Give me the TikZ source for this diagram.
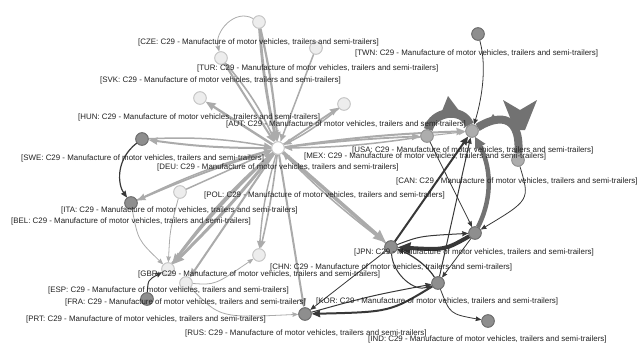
\documentclass[tikz,border=0pt]{standalone}
\usepackage{fontspec}
\setmainfont{Liberation Sans}
\usetikzlibrary{arrows.meta}
\definecolor{lite}{HTML}{ABABAB}
\definecolor{dark}{HTML}{383838}
\definecolor{band}{HTML}{727272}
\definecolor{txt}{HTML}{222222}
\definecolor{nlfill}{HTML}{EDEDED}
\definecolor{nldraw}{HTML}{C6C6C6}
\definecolor{nmfill}{HTML}{8E8E8E}
\definecolor{nmdraw}{HTML}{6E6E6E}
\definecolor{nufill}{HTML}{ADADAD}
\definecolor{nudraw}{HTML}{929292}
\tikzset{
  nbase/.style={circle, inner sep=0pt, minimum size=12.5pt, line width=0.8pt},
  nl/.style={nbase, fill=nlfill, draw=nldraw},
  nm/.style={nbase, fill=nmfill, draw=nmdraw},
  nu/.style={nbase, fill=nufill, draw=nudraw},
  naut/.style={nbase, fill=white, draw=nldraw},
  ledge/.style={draw=lite, -{Stealth[length=4pt 2.4, width=3pt 2.0, inset=0.5pt]}},
  dedge/.style={draw=dark, -{Stealth[length=4pt 2.2, width=3pt 2.0, inset=0.5pt]}},
  bandedge/.style={draw=band},
  lab/.style={font=\fontsize{7.9}{8}\selectfont, text=txt, inner sep=0pt, anchor=west}
}
\begin{document}
\begin{tikzpicture}[x=1pt,y=-1pt]
\useasboundingbox (0,0) rectangle (637,345);
% nodes
\node[nl] (cze) at (259,22) {};
\node[nl] (tur) at (221,58) {};
\node[nl] (svk) at (316,48) {};
\node[nl] (hun) at (200,98) {};
\node[nl] (deu) at (344,104) {};
\node[naut] (aut) at (278,148) {};
\node[nm] (swe) at (142,139) {};
\node[nm] (ita) at (131,203) {};
\node[nl] (pol) at (180,192) {};
\node[nl] (gbr) at (168,269) {};
\node[nl] (fra) at (186,283) {};
\node[nm] (esp) at (147,299) {};
\node[nl] (chn) at (259,255) {};
\node[nm] (rus) at (305,314) {};
\node[nm] (jpn) at (391,247) {};
\node[nm] (kor) at (438,283) {};
\node[nm] (ind) at (488,321) {};
\node[nu] (mex) at (427,136) {};
\node[nu] (usa) at (472,131) {};
\node[nu] (can) at (518,160) {};
\node[nm] (twn) at (478,34) {};
\node[nm] (kx) at (475,233) {};
% light edges from AUT
\draw[ledge, line width=2pt] (aut) to[bend left=4] (swe);
\draw[ledge, line width=2.4pt] (aut) to (hun);
\draw[ledge, line width=1.8pt] (aut) to[bend right=3] (ita);
\draw[ledge, line width=3pt] (aut) to[bend left=3] (gbr);
\draw[ledge, line width=2.4pt] (aut) to[bend right=4] (gbr);
\draw[ledge, line width=2pt] (aut) to (fra);
\draw[ledge, line width=1.6pt] (aut) to[bend left=3] (chn);
\draw[ledge, line width=1.4pt] (aut) to[bend right=6] (chn);
\draw[ledge, line width=2pt] (aut) to (rus);
\draw[ledge, line width=3.6pt] (aut) to (jpn);
\draw[ledge, line width=1.8pt] (aut) to (deu);
\draw[ledge, line width=1.8pt] (aut) to[bend left=2] (mex);
\draw[ledge, line width=2pt] (aut) to[bend left=3] (usa);
% light edges into AUT
\draw[ledge, line width=2.8pt] (cze) to[bend right=4] (aut);
\draw[ledge, line width=2.2pt] (cze) to[bend left=4] (aut);
\draw[ledge, line width=2pt] (tur) to (aut);
\draw[ledge, line width=1.6pt] (tur) to[bend left=8] (aut);
\draw[ledge, line width=1.5pt] (svk) to (aut);
\draw[ledge, line width=1.5pt] (swe) to[bend left=6] (aut);
\draw[ledge, line width=1.5pt] (ita) to[bend left=5] (aut);
\draw[ledge, line width=2pt] (gbr) to[bend left=6] (aut);
\draw[ledge, line width=1.5pt] (pol) to (aut);
\draw[ledge, line width=1.5pt] (mex) to[bend left=4] (aut);
\draw[ledge, line width=1.5pt] (jpn) to[bend left=4] (aut);
\draw[ledge, line width=1.5pt] (deu) to[bend left=6] (aut);
% thin light edges
\draw[ledge, line width=0.8pt] (cze) .. controls (235,8) and (214,32) .. (tur);
\draw[ledge, line width=0.8pt] (ita) .. controls (138,240) .. (gbr);
\draw[ledge, line width=0.8pt] (pol) .. controls (170,230) .. (gbr);
\draw[ledge, line width=0.8pt] (fra) .. controls (215,285) .. (chn);
\draw[ledge, line width=0.8pt] (fra) .. controls (220,318) .. (rus);
\draw[ledge, line width=1pt] (mex) to (usa);
% gray bands
\draw[bandedge, line width=4.5pt, -{Triangle[length=11pt,width=11pt]}] (kx) .. controls (494,195) and (490,165) .. (usa);
\draw[bandedge, line width=9pt] (mex) .. controls (432,112) and (462,106) .. (usa);
\fill[band] (440,116) -- (448,96) -- (460,112) -- cycle;
\draw[bandedge, line width=8pt] (usa) .. controls (494,117) and (521,110) .. (can);
\fill[band] (503,100) -- (520,110) -- (537,100) -- (525,130) -- (515,130) -- cycle;
\fill[band] (487,124) -- (493,114) -- (499,122) -- cycle;
% dark edges
\draw[dedge, line width=1.2pt] (swe) .. controls (115,160) and (118,185) .. (ita);
\draw[dedge, line width=1pt] (esp) .. controls (148,280) .. (gbr);
\draw[dedge, line width=0.8pt] (twn) .. controls (488,70) and (480,105) .. (usa);
\draw[dedge, line width=2pt] (jpn) -- (usa);
\draw[dedge, line width=1pt] (kor) -- (usa);
\draw[dedge, line width=0.8pt] (mex) -- (kx);
\draw[dedge, line width=0.8pt] (can) .. controls (530,200) .. (kx);
\draw[dedge, line width=4pt] (kx) .. controls (445,250) .. (jpn);
\draw[dedge, line width=1pt] (jpn) .. controls (420,236) .. (kx);
\draw[dedge, line width=1pt] (jpn) .. controls (393,275) and (415,292) .. (kor);
\draw[dedge, line width=1.2pt] (kor) .. controls (425,262) and (405,252) .. (jpn);
\draw[dedge, line width=0.8pt] (kx) -- (kor);
\draw[dedge, line width=0.8pt] (kor) .. controls (450,314) .. (ind);
\draw[dedge, line width=2pt] (kor) .. controls (390,312) .. (rus);
\draw[dedge, line width=1pt] (rus) .. controls (370,296) .. (kor);
\draw[dedge, line width=0.8pt] (jpn) -- (rus);
% redraw nodes on top
\foreach \n/\s in {cze/nl,tur/nl,svk/nl,hun/nl,deu/nl,aut/naut,swe/nm,ita/nm,pol/nl,gbr/nl,fra/nl,esp/nm,chn/nl,rus/nm,jpn/nm,kor/nm,ind/nm,mex/nu,usa/nu,can/nu,twn/nm,kx/nm}
  \node[\s] at (\n) {};
% labels
\node[lab] (lcze) at (138,42) {[CZE: C29 - Manufacture of motor vehicles, trailers and semi-trailers]};
\node[lab] (ltwn) at (355,53) {[TWN: C29 - Manufacture of motor vehicles, trailers and semi-trailers]};
\node[lab] (ltur) at (197,68) {[TUR: C29 - Manufacture of motor vehicles, trailers and semi-trailers]};
\node[lab] (lsvk) at (100,80) {[SVK: C29 - Manufacture of motor vehicles, trailers and semi-trailers]};
\node[lab] (lhun) at (78,117) {[HUN: C29 - Manufacture of motor vehicles, trailers and semi-trailers]};
\node[lab] (laut) at (226,124) {[AUT: C29 - Manufacture of motor vehicles, trailers and semi-trailers]};
\node[lab] (lswe) at (21,158) {[SWE: C29 - Manufacture of motor vehicles, trailers and semi-trailers]};
\node[lab] (lusa) at (352,150) {[USA: C29 - Manufacture of motor vehicles, trailers and semi-trailers]};
\node[lab] (lmex) at (304,156) {[MEX: C29 - Manufacture of motor vehicles, trailers and semi-trailers]};
\node[lab] (ldeu) at (157,167) {[DEU: C29 - Manufacture of motor vehicles, trailers and semi-trailers]};
\node[lab] (lcan) at (396,181) {[CAN: C29 - Manufacture of motor vehicles, trailers and semi-trailers]};
\node[lab] (lpol) at (204,195) {[POL: C29 - Manufacture of motor vehicles, trailers and semi-trailers]};
\node[lab] (lita) at (61,210) {[ITA: C29 - Manufacture of motor vehicles, trailers and semi-trailers]};
\node[lab] (lbel) at (11,221) {[BEL: C29 - Manufacture of motor vehicles, trailers and semi-trailers]};
\node[lab] (ljpn) at (354,252) {[JPN: C29 - Manufacture of motor vehicles, trailers and semi-trailers]};
\node[lab] (lchn) at (270,267) {[CHN: C29 - Manufacture of motor vehicles, trailers and semi-trailers]};
\node[lab] (lgbr) at (138,274) {[GBR: C29 - Manufacture of motor vehicles, trailers and semi-trailers]};
\node[lab] (lesp) at (48,290) {[ESP: C29 - Manufacture of motor vehicles, trailers and semi-trailers]};
\node[lab] (lkor) at (316,301) {[KOR: C29 - Manufacture of motor vehicles, trailers and semi-trailers]};
\node[lab] (lfra) at (65,302) {[FRA: C29 - Manufacture of motor vehicles, trailers and semi-trailers]};
\node[lab] (lprt) at (26,319) {[PRT: C29 - Manufacture of motor vehicles, trailers and semi-trailers]};
\node[lab] (lrus) at (185,333) {[RUS: C29 - Manufacture of motor vehicles, trailers and semi-trailers]};
\node[lab] (lind) at (368,339) {[IND: C29 - Manufacture of motor vehicles, trailers and semi-trailers]};
\end{tikzpicture}
\end{document}
